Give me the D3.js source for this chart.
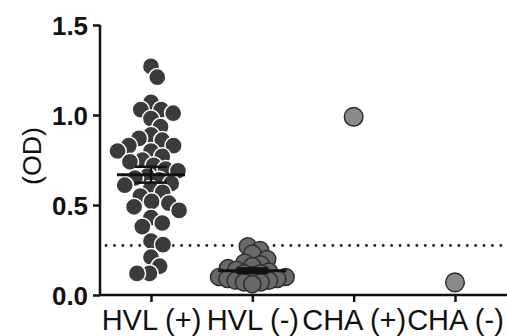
<!DOCTYPE html>
<html><head><meta charset="utf-8">
<script src="https://cdn.jsdelivr.net/npm/d3@7"></script>
<style>body{margin:0;background:#fff}svg{display:block}</style>
</head><body>
<svg id="c" width="507" height="336"></svg>
<script>
const categories = ["HVL (+)", "HVL (-)", "CHA (+)", "CHA (-)"];
const hvlPos = [1.27, 1.21, 1.07, 1.03, 1.03, 1.01, 0.98, 0.935, 0.89, 0.87, 0.86, 0.83, 0.83, 0.80, 0.80, 0.77, 0.75, 0.74, 0.72, 0.70, 0.69, 0.66, 0.65, 0.64, 0.62, 0.61, 0.59, 0.57, 0.55, 0.52, 0.51, 0.49, 0.47, 0.43, 0.40, 0.38, 0.30, 0.28, 0.21, 0.16, 0.12, 0.12];
const hvlNeg = [0.27, 0.25, 0.23, 0.20, 0.18, 0.17, 0.16, 0.15, 0.14, 0.13, 0.12, 0.12, 0.11, 0.10, 0.10, 0.09, 0.09, 0.08, 0.08, 0.07, 0.07, 0.06];
const chaPos = [0.99];
const chaNeg = [0.07];
const cutoff = 0.275;
const yTicks = [0, 0.5, 1.0, 1.5];
const yLabel = "(OD)";

const groups = [
  {name: categories[0], values: hvlPos, fill: "#3b3b3b", stroke: "#ffffff", summary: true, gap: 12.5, asc: false},
  {name: categories[1], values: hvlNeg, fill: "#686868", stroke: "#2e2e2e", summary: true, gap: 8.5, asc: true},
  {name: categories[2], values: chaPos, fill: "#8a8a8a", stroke: "#2e2e2e", summary: false, gap: 10, asc: false},
  {name: categories[3], values: chaNeg, fill: "#8a8a8a", stroke: "#2e2e2e", summary: false, gap: 10, asc: false}
];

const svg = d3.select("#c");
const x = d3.scalePoint().domain(categories).range([151, 455]);
const y = d3.scaleLinear().domain([0, 1.5]).range([295, 25]);
const font = "Liberation Sans, Arial, sans-serif";

// cutoff dotted line
svg.append("line")
  .attr("x1", 106).attr("x2", 507)
  .attr("y1", y(cutoff)).attr("y2", y(cutoff))
  .attr("stroke", "#222").attr("stroke-width", 2.8)
  .attr("stroke-linecap", "round")
  .attr("stroke-dasharray", "0.1,8.3");

function swarm(values, minDist, asc) {
  const vals = asc ? values.slice().sort(d3.ascending) : values;
  const placed = [];
  vals.forEach(v => {
    const py = y(v);
    const cands = [0];
    placed.forEach(p => {
      const dy = Math.abs(p.y - py);
      if (dy < minDist) {
        const dx = Math.sqrt(minDist * minDist - dy * dy);
        cands.push(p.dx + dx, p.dx - dx);
      }
    });
    cands.sort((a, b) => Math.abs(a) - Math.abs(b));
    let chosen = 0;
    for (const c of cands) {
      if (placed.every(p => Math.hypot(p.dx - c, p.y - py) >= minDist - 1e-6)) { chosen = c; break; }
    }
    placed.push({v, y: py, dx: chosen});
  });
  return asc ? placed.reverse() : placed;
}

groups.forEach(g => {
  const pts = swarm(g.values, g.gap, g.asc);
  svg.append("g").selectAll("circle").data(pts).join("circle")
    .attr("cx", d => x(g.name) + d.dx)
    .attr("cy", d => d.y)
    .attr("r", g.summary ? 8.6 : 9.3)
    .attr("fill", g.fill)
    .attr("stroke", g.stroke)
    .attr("stroke-width", 1.5);
  if (g.summary) {
    const m = d3.mean(g.values);
    const sem = d3.deviation(g.values) / Math.sqrt(g.values.length);
    const cx = x(g.name);
    const s = svg.append("g").attr("stroke", "#111").attr("fill", "none");
    s.append("line").attr("x1", cx - 34).attr("x2", cx + 34).attr("y1", y(m)).attr("y2", y(m)).attr("stroke-width", 3);
    s.append("line").attr("x1", cx).attr("x2", cx).attr("y1", y(m - sem)).attr("y2", y(m + sem)).attr("stroke-width", 2.5);
    [m - sem, m + sem].forEach(v => s.append("line").attr("x1", cx - 16).attr("x2", cx + 16).attr("y1", y(v)).attr("y2", y(v)).attr("stroke-width", 2.5));
  }
});

// axes
const yAxis = svg.append("g").attr("transform", "translate(100,0)")
  .call(d3.axisLeft(y).tickValues(yTicks).tickFormat(d3.format(".1f")).tickSize(7).tickPadding(5));
yAxis.select(".domain").attr("stroke", "#111").attr("stroke-width", 2.5).attr("d", "M0,25V295");
yAxis.selectAll(".tick line").attr("stroke", "#111").attr("stroke-width", 2.5);
yAxis.selectAll(".tick text").attr("font-family", font)
  .attr("font-weight", "bold").attr("font-size", 26).attr("fill", "#111").attr("dy", "0.36em")
  .attr("textLength", 36).attr("lengthAdjust", "spacingAndGlyphs");

const xAxis = svg.append("g").attr("transform", "translate(0,295)")
  .call(d3.axisBottom(x).tickSize(7).tickPadding(7));
xAxis.select(".domain").attr("stroke", "#111").attr("stroke-width", 2.5).attr("d", "M99,0H507");
xAxis.selectAll(".tick line").attr("stroke", "#111").attr("stroke-width", 2.5);
xAxis.selectAll(".tick text").attr("font-family", font)
  .attr("font-size", 29).attr("fill", "#111").attr("dy", "0.72em");

svg.append("text")
  .attr("transform", "translate(41,156) rotate(-90)")
  .attr("text-anchor", "middle")
  .attr("font-family", font)
  .attr("font-size", 26).attr("fill", "#111")
  .attr("textLength", 58).attr("lengthAdjust", "spacingAndGlyphs")
  .text(yLabel);
</script>
</body></html>
